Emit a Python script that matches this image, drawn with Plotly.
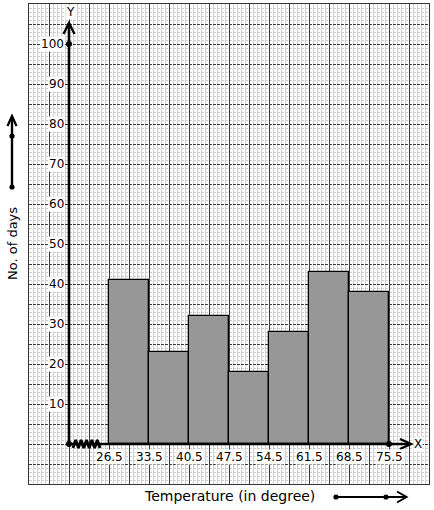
import plotly.graph_objects as go

# ---------------- data ----------------
boundaries = [26.5, 33.5, 40.5, 47.5, 54.5, 61.5, 68.5, 75.5]
days = [41, 23, 32, 18, 28, 43, 38]
y_ticks = [10, 20, 30, 40, 50, 60, 70, 80, 90, 100]
x_title = "Temperature (in degree)"
y_title = "No. of days"

# ---------------- geometry helpers ----------------
W, H = 434, 510
ML, MR, MT, MB = 29, 5, 4, 26
PW, PH = W - ML - MR, H - MT - MB
cw = boundaries[1] - boundaries[0]
x_origin = boundaries[0] - cw           # where the y axis sits
x_range = [x_origin - cw, boundaries[-1] + cw]
y_range = [-10, 110]
ux = (x_range[1] - x_range[0]) / PW    # data units per px
uy = (y_range[1] - y_range[0]) / PH


def P(px, py):
    return (px - ML) / PW, (H - MB - py) / PH


FONT = "DejaVu Sans"
fig = go.Figure()

# bars (histogram)
mids = [(a + b) / 2 for a, b in zip(boundaries[:-1], boundaries[1:])]
widths = [b - a for a, b in zip(boundaries[:-1], boundaries[1:])]
fig.add_trace(go.Bar(x=mids, y=days, width=widths, marker=dict(color="#979797", line=dict(color="black", width=1.3)),
                     hoverinfo="skip", showlegend=False))

shapes = []
# axes lines
y_top = y_range[1] - 19 * uy
x_end = boundaries[-1] + 22 * ux
shapes.append(dict(type="line", xref="x", yref="y", x0=x_origin, y0=0, x1=x_origin, y1=y_top, line=dict(color="black", width=2.6)))
shapes.append(dict(type="line", xref="x", yref="y", x0=x_origin, y0=0, x1=x_end, y1=0, line=dict(color="black", width=2.6)))
# arrowheads (chevrons)
shapes.append(dict(type="path", xref="x", yref="y",
                   path=f"M {x_origin-5.5*ux},{y_top-11*uy} L {x_origin},{y_top} L {x_origin+5.5*ux},{y_top-11*uy}",
                   line=dict(color="black", width=2.4)))
shapes.append(dict(type="path", xref="x", yref="y",
                   path=f"M {x_end-11*ux},{5*uy} L {x_end},{0} L {x_end-11*ux},{-5*uy}",
                   line=dict(color="black", width=2.4)))

# zigzag (axis break)
zx0 = x_origin + 4 * ux
zx1 = boundaries[0] - 9 * ux
n = 10
zz = []
for i in range(n + 1):
    zz.append((zx0 + (zx1 - zx0) * i / n, (4 * uy) * (1 if i % 2 else -1)))
fig.add_trace(go.Scatter(x=[p[0] for p in zz], y=[p[1] for p in zz], mode="lines",
                         line=dict(color="black", width=2.8), hoverinfo="skip", showlegend=False, cliponaxis=False))

# dots on axes
fig.add_trace(go.Scatter(x=[x_origin, x_origin, boundaries[-1]], y=[0, 100, 0], mode="markers",
                         marker=dict(color="black", size=6), hoverinfo="skip", showlegend=False, cliponaxis=False))

# outside decorative arrows (paper coords)
a, b = P(12, 187), P(12, 117)
shapes.append(dict(type="line", xref="paper", yref="paper", x0=a[0], y0=a[1], x1=b[0], y1=b[1], line=dict(color="black", width=2.4)))
p1, p2, p3 = P(7.5, 126), P(12, 116), P(16.5, 126)
shapes.append(dict(type="path", xref="paper", yref="paper", path=f"M {p1[0]},{p1[1]} L {p2[0]},{p2[1]} L {p3[0]},{p3[1]}",
                   line=dict(color="black", width=2.2)))
a, b = P(336, 497), P(405, 497)
shapes.append(dict(type="line", xref="paper", yref="paper", x0=a[0], y0=a[1], x1=b[0], y1=b[1], line=dict(color="black", width=2)))
p1, p2, p3 = P(397, 491.5), P(406.5, 497), P(397, 502.5)
shapes.append(dict(type="path", xref="paper", yref="paper", path=f"M {p1[0]},{p1[1]} L {p2[0]},{p2[1]} L {p3[0]},{p3[1]}",
                   line=dict(color="black", width=2)))
for (dxp, dyp) in [(12, 187), (12, 136), (336, 497), (386, 497)]:
    c = P(dxp, dyp)
    shapes.append(dict(type="circle", xref="paper", yref="paper", xsizemode="pixel", ysizemode="pixel",
                       xanchor=c[0], yanchor=c[1], x0=-2.6, x1=2.6, y0=-2.6, y1=2.6,
                       fillcolor="black", line=dict(color="black", width=0)))

annotations = []
for bv in boundaries:
    annotations.append(dict(x=bv, y=0, xref="x", yref="y", text=f"{bv}", showarrow=False,
                            xanchor="center", yanchor="middle",
                            yshift=-13, font=dict(family=FONT, size=12, color="black"), bgcolor="white", borderpad=0))
for t in y_ticks:
    annotations.append(dict(x=x_origin, y=t, xref="x", yref="y", text=str(t), showarrow=False, xanchor="right",
                            yanchor="middle",
                            xshift=-4, font=dict(family=FONT, size=12, color="black"), bgcolor="white", borderpad=0))
annotations.append(dict(x=x_origin, y=y_range[1] - 8 * uy, xref="x", yref="y", text="Y", showarrow=False, xshift=1.5,
                        xanchor="center", yanchor="middle",
                        font=dict(family=FONT, size=12, color="black"), bgcolor="white", borderpad=0))
annotations.append(dict(x=x_end + 7 * ux, y=0, xref="x", yref="y", text="X", showarrow=False,
                        xanchor="center", yanchor="middle",
                        font=dict(family=FONT, size=12, color="black"), bgcolor="white", borderpad=0))
c = P(12, 244)
annotations.append(dict(x=c[0], y=c[1], xref="paper", yref="paper", text=y_title, textangle=-90, showarrow=False,
                        xanchor="center", yanchor="middle",
                        font=dict(family=FONT, size=13, color="black")))
c = P(229, 496)
annotations.append(dict(x=c[0], y=c[1], xref="paper", yref="paper", text=x_title, showarrow=False,
                        xanchor="center", yanchor="middle",
                        font=dict(family=FONT, size=14, color="black")))

fig.update_layout(
    width=W, height=H, margin=dict(l=ML, r=MR, t=MT, b=MB),
    paper_bgcolor="white", plot_bgcolor="white",
    shapes=shapes, annotations=annotations, bargap=0,
    xaxis=dict(range=x_range, showticklabels=False, ticks="", zeroline=False,
               showgrid=True, gridcolor="#3c3c3c", gridwidth=1, tick0=x_range[0], dtick=cw / 2,
               minor=dict(showgrid=True, dtick=cw / 10, gridcolor="#d0d0d0", gridwidth=1, ticks=""),
               showline=True, mirror=True, linecolor="#333", linewidth=1, fixedrange=True),
    yaxis=dict(range=y_range, showticklabels=False, ticks="", zeroline=False,
               showgrid=True, gridcolor="#3c3c3c", gridwidth=1, griddash="3px,1px", tick0=0, dtick=5,
               minor=dict(showgrid=True, dtick=1, gridcolor="#d0d0d0", gridwidth=1, ticks=""),
               showline=True, mirror=True, linecolor="#333", linewidth=1, fixedrange=True),
)
fig.write_html("out.html", config={"displayModeBar": False},
               post_script="document.body.style.margin='0';document.body.style.padding='0';")
